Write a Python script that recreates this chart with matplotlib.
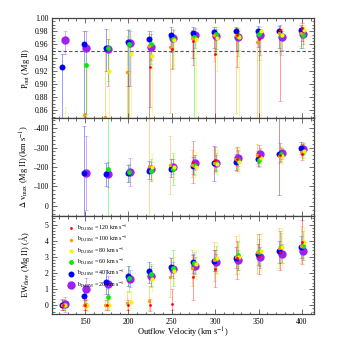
import numpy as np
import matplotlib
matplotlib.use("Agg")
import matplotlib.pyplot as plt
from matplotlib.ticker import MultipleLocator, FormatStrFormatter, FuncFormatter

plt.rcParams["font.family"] = ["Liberation Serif", "DejaVu Serif"]
plt.rcParams["mathtext.fontset"] = "stix"
plt.rcParams["axes.unicode_minus"] = False

# ── DATA ──────────────────────────────────────────────────────────
outflow_v = [125, 150, 175, 200, 225, 250, 275, 300, 325, 350, 375, 400]

# series order: b = 120, 100, 80, 60, 40, 20 km/s
b_dism = [120, 100, 80, 60, 40, 20]
colors = ["#ff0000", "#ff9900", "#f5f500", "#00ee00", "#0000ff", "#a020f0"]
msizes = [2.0, 2.4, 3.0, 3.5, 4.3, 6.0]
x_shift = [0, -1.5, 2.5, 1, -1, 1.5]
nan = np.nan

# P_out (Mg II): value, upper bound, lower bound
pout_val = [
    [nan, nan, nan, 0.830, 0.925, 0.953, 0.965, 0.946, 0.975, 0.969, 0.982, 0.985],
    [nan, 0.853, 0.850, 0.918, 0.958, 0.956, 0.970, 0.974, 0.975, 0.963, 0.977, 0.978],
    [0.800, 0.820, 0.919, 0.945, 0.942, 0.967, 0.968, 0.970, 0.972, 0.980, 0.975, 0.982],
    [nan, 0.929, 0.954, 0.960, 0.960, 0.969, 0.971, 0.976, 0.973, 0.976, 0.974, 0.975],
    [0.926, 0.961, 0.955, 0.964, 0.969, 0.974, 0.978, 0.979, 0.980, 0.981, 0.981, 0.982],
    [0.966, 0.955, 0.953, 0.962, 0.956, 0.970, 0.975, 0.973, 0.971, 0.974, 0.971, 0.976],
]
pout_hi = [
    [nan, nan, nan, 0.920, 0.950, 0.973, 0.980, 0.976, 0.985, 0.981, 0.990, 0.992],
    [nan, 0.856, 0.955, 0.973, 0.976, 0.976, 0.982, 0.984, 0.985, 0.978, 0.987, 0.988],
    [0.864, 0.922, 0.984, 0.975, 0.972, 0.982, 0.983, 0.983, 0.984, 0.988, 0.985, 0.990],
    [nan, 0.959, 0.969, 0.983, 0.980, 0.984, 0.983, 0.986, 0.983, 0.986, 0.984, 0.985],
    [0.946, 0.981, 0.983, 0.982, 0.981, 0.987, 0.986, 0.987, 0.987, 0.988, 0.988, 0.990],
    [0.980, 0.980, 0.968, 0.980, 0.976, 0.982, 0.985, 0.983, 0.981, 0.984, 0.981, 0.986],
]
pout_lo = [
    [nan, nan, nan, 0.730, 0.865, 0.923, 0.929, 0.746, 0.925, 0.769, 0.874, 0.965],
    [nan, 0.843, 0.830, 0.818, 0.808, 0.856, 0.940, 0.934, 0.855, 0.763, 0.947, 0.958],
    [0.770, 0.790, 0.819, 0.795, 0.792, 0.927, 0.818, 0.920, 0.772, 0.780, 0.950, 0.962],
    [nan, 0.829, 0.904, 0.810, 0.930, 0.924, 0.771, 0.946, 0.943, 0.936, 0.944, 0.955],
    [0.726, 0.761, 0.920, 0.896, 0.769, 0.949, 0.940, 0.954, 0.950, 0.956, 0.954, 0.955],
    [0.946, 0.854, 0.896, 0.896, 0.936, 0.950, 0.955, 0.953, 0.951, 0.944, 0.951, 0.961],
]

# Delta v_max (Mg II), km/s: value, most negative bound, least negative bound
dv_val = [
    [nan, nan, nan, nan, nan, nan, -224, -236, -241, -255, -262, -266],
    [nan, nan, nan, nan, -207, -211, -212, -221, -243, -260, -255, -276],
    [nan, nan, nan, nan, -202, -198, -200, -215, -226, -248, -258, -285],
    [nan, nan, -190, -173, -179, -188, -210, -222, -236, -238, -266, -276],
    [nan, -169, -164, -169, -181, -190, -207, -222, -226, -240, -265, -296],
    [nan, -169, -162, -173, -188, -202, -219, -220, -245, -266, -271, -291],
]
dv_top = [
    [nan, nan, nan, nan, nan, nan, -334, -302, -302, -316, -322, -320],
    [nan, nan, nan, nan, -480, -362, -290, -290, -300, -320, -300, -330],
    [nan, nan, nan, nan, -266, -260, -275, -290, -302, -300, -310, -331],
    [nan, nan, -480, -215, -240, -271, -260, -270, -285, -290, -305, -320],
    [nan, -413, -221, -210, -230, -240, -250, -309, -265, -285, -470, -330],
    [nan, -362, -227, -245, -227, -240, -260, -260, -290, -300, -300, -325],
]
dv_bot = [
    [nan, nan, nan, nan, nan, nan, -116, -178, -178, -221, -227, -235],
    [nan, nan, nan, nan, 60, -60, -150, -170, -185, -215, -220, -250],
    [nan, nan, nan, nan, -135, -140, -150, -165, -170, -200, -215, -254],
    [nan, nan, 60, -125, -140, -107, -160, -175, -190, -200, -230, -245],
    [nan, 60, -100, -124, -140, -150, -165, -129, -185, -205, -55, -265],
    [nan, 22, -98, -100, -128, -165, -185, -185, -205, -235, -240, -260],
]

# EW_flow (Mg II), Angstrom: value, upper bound, lower bound
ew_val = [
    [0.0, 0.0, 0.0, 0.0, 0.0, 0.08, 1.72, 2.24, 2.90, 3.05, 3.27, 3.90],
    [0.0, 0.0, 0.0, 0.15, 0.25, 1.76, 2.30, 2.80, 3.00, 3.30, 3.55, 3.70],
    [0.0, 0.0, 0.0, 0.22, 1.61, 2.10, 2.55, 2.95, 3.00, 3.37, 3.62, 3.90],
    [0.0, 0.0, 0.48, 1.66, 1.93, 2.30, 2.60, 2.86, 3.10, 3.30, 3.60, 3.70],
    [0.0, 0.54, 1.41, 1.82, 2.09, 2.38, 2.65, 2.75, 2.95, 3.20, 3.35, 3.60],
    [0.06, 0.99, 1.30, 1.61, 1.80, 2.24, 2.40, 2.69, 2.80, 3.00, 3.20, 3.37],
]
ew_hi = [
    [0.30, 0.30, 0.30, 0.30, 0.35, 1.00, 3.10, 3.40, 4.00, 4.40, 4.60, 5.28],
    [0.30, 0.30, 0.30, 0.90, 1.20, 3.00, 3.40, 3.90, 4.30, 4.40, 4.80, 4.90],
    [0.40, 0.40, 0.35, 0.90, 2.30, 3.00, 3.40, 3.90, 4.40, 4.50, 4.80, 4.85],
    [0.35, 0.35, 0.98, 2.44, 2.55, 3.40, 3.30, 3.65, 3.90, 4.10, 4.50, 4.60],
    [0.35, 1.26, 2.17, 2.40, 2.70, 2.90, 3.20, 3.40, 3.60, 3.80, 4.00, 4.30],
    [0.52, 1.66, 1.83, 2.20, 2.40, 2.70, 3.00, 3.20, 3.40, 3.60, 3.80, 3.90],
]
ew_lo = [
    [-0.30, -0.30, -0.30, -0.30, -0.35, -0.30, 0.31, 1.10, 1.60, 1.90, 2.20, 2.55],
    [-0.30, -0.30, -0.30, -0.30, -0.30, 0.50, 1.20, 1.50, 1.90, 2.00, 2.30, 2.60],
    [-0.35, -0.35, -0.30, -0.20, 0.85, 1.30, 1.60, 1.90, 1.90, 2.20, 2.50, 2.80],
    [-0.30, -0.30, -0.30, 0.79, 1.14, 1.20, 1.80, 2.00, 2.20, 2.40, 2.70, 2.90],
    [-0.30, -0.04, 0.68, 1.20, 1.40, 1.80, 2.00, 2.10, 2.30, 2.50, 2.60, 2.90],
    [-0.45, 0.31, 0.70, 1.10, 1.20, 1.70, 1.90, 2.10, 2.20, 2.30, 2.60, 2.80],
]


def draw_series(ax, vals, bnd_a, bnd_b):
    """Error bars for each b_D,ISM series, largest markers drawn first."""
    x = np.array(outflow_v, dtype=float)
    for i in reversed(range(len(b_dism))):
        v = np.array(vals[i], dtype=float)
        a = np.array(bnd_a[i], dtype=float)
        b = np.array(bnd_b[i], dtype=float)
        lo = v - np.minimum(a, b)
        hi = np.maximum(a, b) - v
        ax.errorbar(x + x_shift[i], v, yerr=[lo, hi], fmt="none",
                    ecolor=colors[i], elinewidth=0.7, capsize=1.3,
                    capthick=0.5, alpha=0.4, zorder=2)
        ax.plot(x + x_shift[i], v, "o", color=colors[i], ms=msizes[i],
                mec="none", zorder=3 + (6 - i),
                label=r"b$_{\rm D,ISM}$ = %d km s$^{-1}$" % b_dism[i])


def style_axis(ax, ymajor, yminor):
    ax.set_xlim(112, 414)
    ax.xaxis.set_major_locator(MultipleLocator(50))
    ax.xaxis.set_minor_locator(MultipleLocator(10))
    ax.yaxis.set_major_locator(MultipleLocator(ymajor))
    ax.yaxis.set_minor_locator(MultipleLocator(yminor))
    ax.tick_params(which="both", direction="in", top=True, right=True,
                   width=0.5, colors="#333333", labelsize=5.6, pad=2.5,
                   labelcolor="black")
    ax.tick_params(which="major", length=3.5)
    ax.tick_params(which="minor", length=1.8)
    for sp in ax.spines.values():
        sp.set_linewidth(0.9)
        sp.set_color("#444444")


fig = plt.figure(figsize=(3.49, 3.49), dpi=100)
left, width = 0.149, 0.751
ax_top = fig.add_axes([left, 0.662, width, 0.286])
ax_mid = fig.add_axes([left, 0.381, width, 0.281])
ax_bot = fig.add_axes([left, 0.100, width, 0.281])

# Panel 1: outflow probability
draw_series(ax_top, pout_val, pout_hi, pout_lo)
ax_top.axhline(0.95, color="#555555", ls="--", lw=0.8, dashes=(3, 2), zorder=1)
style_axis(ax_top, 0.02, 0.005)
ax_top.set_ylim(0.848, 1.0)
ax_top.set_yticks(np.arange(0.86, 1.001, 0.02))
ax_top.yaxis.set_major_formatter(FormatStrFormatter("%.2f"))
ax_top.set_xticklabels([])
ax_top.set_ylabel(r"P$_{\rm out}$ (Mg II)", fontsize=6)

# Panel 2: maximum velocity offset (inverted)
draw_series(ax_mid, dv_val, dv_top, dv_bot)
style_axis(ax_mid, 100, 20)
ax_mid.set_ylim(53, -453)
ax_mid.yaxis.set_major_formatter(
    FuncFormatter(lambda v, pos: ("\u2013%d" % -v) if v < 0 else "%d" % v))
ax_mid.set_xticklabels([])
ax_mid.set_ylabel(r"$\Delta$ v$_{\rm max}$ (Mg II) (km s$^{-1}$)", fontsize=6)

# Panel 3: equivalent width
draw_series(ax_bot, ew_val, ew_hi, ew_lo)
style_axis(ax_bot, 1, 0.2)
ax_bot.set_ylim(-0.56, 5.53)
ax_bot.set_ylabel(r"EW$_{\rm flow}$ (Mg II) ($\mathrm{\AA}$)", fontsize=6)
ax_bot.set_xlabel(r"Outflow Velocity (km s$^{-1}$)", fontsize=6, labelpad=0.5)

handles, labels = ax_bot.get_legend_handles_labels()
ax_bot.legend(handles[::-1], labels[::-1],
              loc="upper left", bbox_to_anchor=(0.035, 1.0), frameon=False,
              fontsize=4.3, labelspacing=0.02, handlelength=1.0,
              handletextpad=0.6, borderpad=0.6)

for ax in (ax_top, ax_mid, ax_bot):
    ax.yaxis.set_label_coords(-0.075, 0.5)

fig.savefig("out.png", dpi=100)
